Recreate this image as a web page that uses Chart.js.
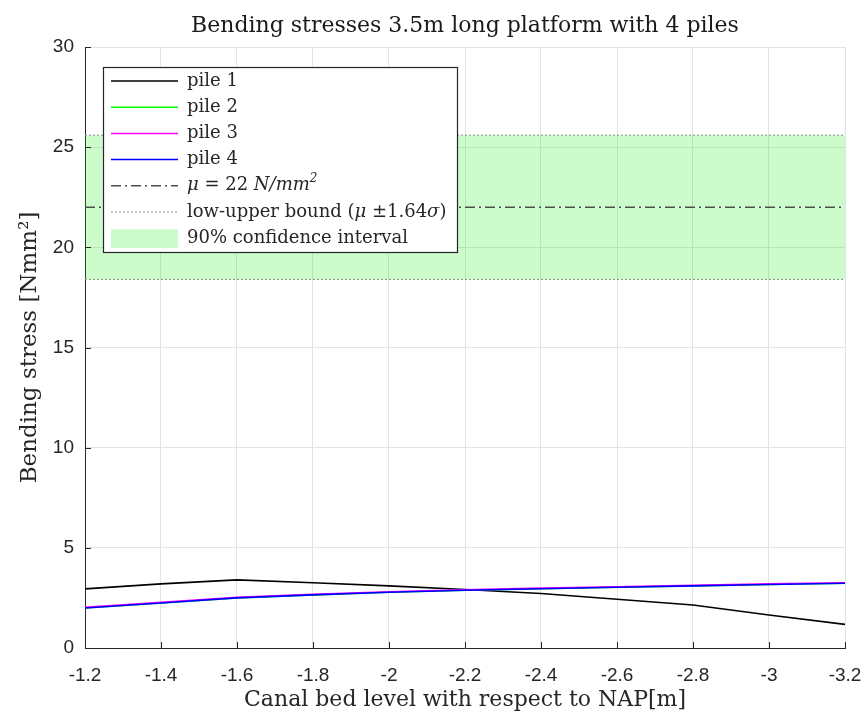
<!DOCTYPE html>
<html>
<head>
<meta charset="utf-8">
<script src="https://cdn.jsdelivr.net/npm/chart.js@4.4.1/dist/chart.umd.min.js"></script>
<style>
  html, body { margin: 0; padding: 0; background: #fff; }
  #wrap { width: 866px; height: 717px; }
</style>
</head>
<body>
<div id="wrap"><canvas id="stressChart"></canvas></div>
<script>
// canal bed level [m NAP]
const depth = [-1.2, -1.4, -1.6, -1.8, -2.0, -2.2, -2.4, -2.6, -2.8, -3.0, -3.2];
// bending stress per pile [N/mm2]
const pile1 = [2.95, 3.2, 3.4, 3.26, 3.1, 2.92, 2.72, 2.43, 2.15, 1.65, 1.18];
const pile2 = [2.0, 2.25, 2.5, 2.65, 2.78, 2.88, 2.96, 3.03, 3.1, 3.17, 3.23];
const pile3 = [2.03, 2.28, 2.53, 2.68, 2.81, 2.9, 2.99, 3.06, 3.13, 3.2, 3.26];
const pile4 = [2.0, 2.25, 2.5, 2.65, 2.78, 2.88, 2.96, 3.03, 3.1, 3.17, 3.23];
// reference strength
const boundX = [-1.2, -3.2];
const meanStress = 22;
const upperBound = 25.6;
const lowerBound = 18.4;
const yTicks = [0, 5, 10, 15, 20, 25, 30];

const chartTitle = 'Bending stresses 3.5m long platform with 4 piles';
const SERIF = '"DejaVu Serif", "Liberation Serif", serif';
const SANS = '"Liberation Sans", Arial, sans-serif';

const xy = (xs, ys) => xs.map((x, i) => ({ x: x, y: ys[i] }));
const flat = (v) => boundX.map(x => ({ x: x, y: v }));

function pileSet(label, data, color, order) {
    return {
        label: label,
        data: xy(depth, data),
        borderColor: color,
        borderWidth: 1.6,
        pointRadius: 0,
        tension: 0,
        fill: false,
        order: order
    };
}

// draw text made of pieces with different fonts (for the math bits)
function drawRich(ctx, parts, x, y) {
    parts.forEach(p => {
        ctx.font = p.font;
        ctx.fillText(p.t, x, y + (p.dy || 0));
        x += ctx.measureText(p.t).width;
    });
}

// title centred over the axes, not the whole canvas
const axesTitle = {
    id: 'axesTitle',
    afterDraw(chart) {
        const { ctx, chartArea: a } = chart;
        ctx.save();
        ctx.font = `22px ${SERIF}`;
        ctx.fillStyle = '#1a1a1a';
        ctx.textAlign = 'center';
        ctx.textBaseline = 'middle';
        ctx.fillText(chartTitle, (a.left + a.right) / 2, 26);
        ctx.restore();
    }
};

// inward tick marks like the original figure
const inwardTicks = {
    id: 'inwardTicks',
    afterDatasetsDraw(chart) {
        const { ctx, chartArea: a, scales } = chart;
        ctx.save();
        ctx.strokeStyle = '#262626';
        ctx.lineWidth = 1;
        scales.y.ticks.forEach(t => {
            const py = Math.round(scales.y.getPixelForValue(t.value)) + 0.5;
            ctx.beginPath();
            ctx.moveTo(a.left, py);
            ctx.lineTo(a.left + 6, py);
            ctx.stroke();
        });
        scales.x.ticks.forEach(t => {
            const px = Math.round(scales.x.getPixelForValue(t.value)) + 0.5;
            ctx.beginPath();
            ctx.moveTo(px, a.bottom);
            ctx.lineTo(px, a.bottom - 6);
            ctx.stroke();
        });
        ctx.restore();
    }
};

// boxed legend in the upper left corner of the axes
const boxLegend = {
    id: 'boxLegend',
    afterDraw(chart) {
        const { ctx, chartArea: a } = chart;
        const x0 = a.left + 18, y0 = a.top + 20, w = 354, h = 185;
        const rowH = 26.2;
        const lx0 = x0 + 8, lx1 = x0 + 75, tx = x0 + 84;
        const fs = 18;
        const rm = `${fs}px ${SERIF}`, it = `italic ${fs}px ${SERIF}`, sup = `italic 12px ${SERIF}`;
        ctx.save();
        ctx.fillStyle = '#fff';
        ctx.fillRect(x0, y0, w, h);
        ctx.strokeStyle = '#262626';
        ctx.lineWidth = 1.2;
        ctx.strokeRect(x0 + 0.5, y0 + 0.5, w, h);

        const rows = [
            { color: '#000000', parts: [{ t: 'pile 1', font: rm }] },
            { color: '#00ff00', parts: [{ t: 'pile 2', font: rm }] },
            { color: '#ff00ff', parts: [{ t: 'pile 3', font: rm }] },
            { color: '#0000ff', parts: [{ t: 'pile 4', font: rm }] },
            { color: '#4d4d4d', dash: [10, 4, 2, 4], parts: [
                { t: 'μ', font: it }, { t: ' = 22 ', font: rm }, { t: 'N/mm', font: it }, { t: '2', font: sup, dy: -7 }
            ] },
            { color: '#8c8c8c', dash: [2, 2], width: 1, parts: [
                { t: 'low-upper bound (', font: rm }, { t: 'μ', font: it }, { t: ' ±1.64', font: rm }, { t: 'σ', font: it }, { t: ')', font: rm }
            ] },
            { patch: 'rgba(0, 230, 0, 0.2)', parts: [{ t: '90% confidence interval', font: rm }] }
        ];

        ctx.textBaseline = 'middle';
        rows.forEach((r, i) => {
            const y = y0 + 14 + i * rowH;
            if (r.patch) {
                ctx.fillStyle = r.patch;
                ctx.fillRect(lx0, y - 9, lx1 - lx0, 19);
            } else {
                ctx.strokeStyle = r.color;
                ctx.lineWidth = r.width || 1.5;
                ctx.setLineDash(r.dash || []);
                ctx.beginPath();
                ctx.moveTo(lx0, y);
                ctx.lineTo(lx1, y);
                ctx.stroke();
                ctx.setLineDash([]);
            }
            ctx.fillStyle = '#262626';
            drawRich(ctx, r.parts, tx, y);
        });
        ctx.restore();
    }
};

const datasets = [
    pileSet('pile 1', pile1, '#000000', 4),
    pileSet('pile 2', pile2, '#00ff00', 3),
    pileSet('pile 3', pile3, '#ff00ff', 2),
    pileSet('pile 4', pile4, '#0000ff', 1),
    {
        label: 'mean',
        data: flat(meanStress),
        borderColor: '#4d4d4d',
        borderWidth: 1.5,
        borderDash: [10, 4, 2, 4],
        pointRadius: 0,
        fill: false,
        order: 5
    },
    {
        label: 'upper bound',
        data: flat(upperBound),
        borderColor: '#8c8c8c',
        borderWidth: 1,
        borderDash: [2, 2],
        pointRadius: 0,
        fill: '+1',
        backgroundColor: 'rgba(0, 235, 0, 0.2)',
        order: 6
    },
    {
        label: 'lower bound',
        data: flat(lowerBound),
        borderColor: '#8c8c8c',
        borderWidth: 1,
        borderDash: [2, 2],
        pointRadius: 0,
        fill: false,
        order: 7
    }
];

new Chart(document.getElementById('stressChart').getContext('2d'), {
    type: 'line',
    data: { datasets: datasets },
    options: {
        responsive: true,
        maintainAspectRatio: false,
        animation: false,
        layout: { padding: { left: 0, right: 21, top: 47, bottom: 0 } },
        plugins: {
            legend: { display: false },
            tooltip: { enabled: false },
            title: { display: false }
        },
        scales: {
            x: {
                type: 'linear',
                reverse: true,
                min: -3.2,
                max: -1.2,
                afterFit: (s) => { s.height = 69; s.paddingLeft = 0; s.paddingRight = 0; },
                ticks: {
                    stepSize: 0.2,
                    color: '#262626',
                    font: { family: SANS, size: 19 },
                    padding: 16,
                    maxRotation: 0,
                    callback: (v) => String(Number(v.toFixed(1)))
                },
                grid: { color: '#e3e3e3', drawTicks: false },
                border: { color: '#262626', width: 1 },
                title: {
                    display: true,
                    text: 'Canal bed level with respect to NAP[m]',
                    color: '#262626',
                    font: { family: SERIF, size: 22 },
                    padding: { top: 0, bottom: 4 }
                }
            },
            y: {
                min: 0,
                max: 30,
                afterFit: (s) => { s.width = 85; },
                afterBuildTicks: (s) => { s.ticks = yTicks.map(v => ({ value: v })); },
                ticks: {
                    color: '#262626',
                    font: { family: SANS, size: 19 },
                    padding: 11
                },
                grid: { color: '#e3e3e3', drawTicks: false },
                border: { color: '#262626', width: 1 },
                title: {
                    display: true,
                    text: 'Bending stress [Nmm²]',
                    color: '#262626',
                    font: { family: SERIF, size: 23 },
                    padding: { top: 16, bottom: 0 }
                }
            }
        }
    },
    plugins: [inwardTicks, boxLegend, axesTitle]
});
</script>
</body>
</html>
